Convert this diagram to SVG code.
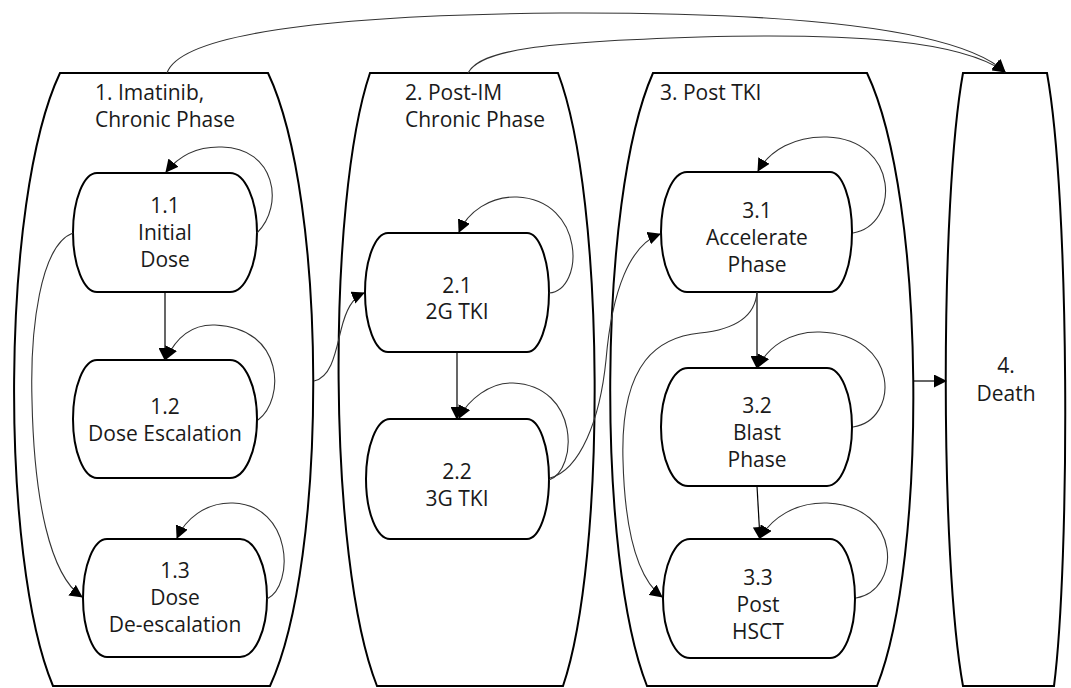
<svg xmlns="http://www.w3.org/2000/svg" width="1071" height="688" viewBox="0 0 1071 688">
<defs>
<marker id="ah" markerWidth="13" markerHeight="13" refX="12" refY="6.5" orient="auto" markerUnits="userSpaceOnUse"><path d="M0,0 L13,6.5 L0,13 Z" fill="#000"/></marker>
<style>
.cont{fill:none;stroke:#000;stroke-width:2}
.node{fill:#fff;stroke:#000;stroke-width:2}
.t{font-family:"Open Sans","Noto Sans",sans-serif;font-size:21px;fill:#1a1a1a}
.c{text-anchor:middle}
.e{fill:none;stroke:#333;stroke-width:1.1}
.s{fill:none;stroke:#000;stroke-width:1.2}
</style>
</defs>
<rect width="1071" height="688" fill="#fff"/>
<g id="container1">
<path class="cont" d="M60,73 H268 C328,200 328,560 270,686 H53 C0,560 0,200 60,73 Z"/>
<text class="t" x="95" y="100">1. Imatinib,</text>
<text class="t" x="95" y="127">Chronic Phase</text>
</g>
<g id="container2">
<path class="cont" d="M370,73 H558 C606,200 606,560 563,686 H377 C327,560 327,200 370,73 Z"/>
<text class="t" x="405" y="100">2. Post-IM</text>
<text class="t" x="405" y="127">Chronic Phase</text>
</g>
<g id="container3">
<path class="cont" d="M653,73 H867 C927,200 927,560 877,686 H647 C597,560 597,200 653,73 Z"/>
<text class="t" x="660" y="100">3. Post TKI</text>
</g>
<g id="container4">
<path class="cont" d="M963,73 H1047 C1070,200 1070,560 1054,686 H963 C940,560 940,200 963,73 Z"/>
<text class="t c" x="1006" y="373">4.</text>
<text class="t c" x="1006" y="401">Death</text>
</g>
<g id="n11">
<path class="node" d="M97,173 H230 A27,59.5 0 0 1 230,292 H97 A24,59.5 0 0 1 97,173 Z"/>
<text class="t c" x="165" y="213">1.1</text>
<text class="t c" x="165" y="240">Initial</text>
<text class="t c" x="165" y="267">Dose</text>
</g>
<g id="n12">
<path class="node" d="M97,360 H230 A27,59 0 0 1 230,478 H97 A24,59 0 0 1 97,360 Z"/>
<text class="t c" x="165" y="414">1.2</text>
<text class="t c" x="165" y="441">Dose Escalation</text>
</g>
<g id="n13">
<path class="node" d="M107,539 H240 A27,59 0 0 1 240,657 H107 A24,59 0 0 1 107,539 Z"/>
<text class="t c" x="175" y="578">1.3</text>
<text class="t c" x="175" y="605">Dose</text>
<text class="t c" x="175" y="632">De-escalation</text>
</g>
<g id="n21">
<path class="node" d="M388,233 H527 A22,59.5 0 0 1 527,352 H388 A23,59.5 0 0 1 388,233 Z"/>
<text class="t c" x="457" y="293">2.1</text>
<text class="t c" x="457" y="319">2G TKI</text>
</g>
<g id="n22">
<path class="node" d="M390,419 H527 A22,60 0 0 1 527,539 H390 A24,60 0 0 1 390,419 Z"/>
<text class="t c" x="457" y="479">2.2</text>
<text class="t c" x="457" y="506">3G TKI</text>
</g>
<g id="n31">
<path class="node" d="M687,172 H830 A22,60 0 0 1 830,292 H687 A26,60 0 0 1 687,172 Z"/>
<text class="t c" x="757" y="218">3.1</text>
<text class="t c" x="757" y="245">Accelerate</text>
<text class="t c" x="757" y="272">Phase</text>
</g>
<g id="n32">
<path class="node" d="M688,368 H827 A25,59 0 0 1 827,486 H688 A27,59 0 0 1 688,368 Z"/>
<text class="t c" x="757" y="413">3.2</text>
<text class="t c" x="757" y="440">Blast</text>
<text class="t c" x="757" y="467">Phase</text>
</g>
<g id="n33">
<path class="node" d="M690,539 H830 A25,59.5 0 0 1 830,658 H690 A27,59.5 0 0 1 690,539 Z"/>
<text class="t c" x="758" y="585">3.3</text>
<text class="t c" x="758" y="612">Post</text>
<text class="t c" x="758" y="639">HSCT</text>
</g>
<g id="connectors">
<path class="s" d="M165,292 V360" marker-end="url(#ah)"/>
<path class="s" d="M457,352 V419" marker-end="url(#ah)"/>
<path class="s" d="M757,292 V368" marker-end="url(#ah)"/>
<path class="s" d="M757,486 L760,539" marker-end="url(#ah)"/>
<path class="s" d="M914,381 H946" marker-end="url(#ah)"/>
<path class="e" d="M257,233 C285,205 275,148 222,147 C195,146 178,157 166,172" marker-end="url(#ah)"/>
<path class="e" d="M258,420 C285,400 285,328 215,325 C190,324 175,340 166,359" marker-end="url(#ah)"/>
<path class="e" d="M267,599 C295,585 292,505 233,503 C205,502 185,520 177,538" marker-end="url(#ah)"/>
<path class="e" d="M549,293 C585,290 585,200 517,197 C490,196 468,212 459,232" marker-end="url(#ah)"/>
<path class="e" d="M549,480 C578,470 580,386 513,383 C490,382 468,400 459,418" marker-end="url(#ah)"/>
<path class="e" d="M853,233 C900,225 900,140 827,137 C795,136 770,150 758,171" marker-end="url(#ah)"/>
<path class="e" d="M853,427 C900,420 900,335 820,332 C790,331 768,347 758,367" marker-end="url(#ah)"/>
<path class="e" d="M856,598 C902,590 902,506 827,503 C795,502 772,518 760,538" marker-end="url(#ah)"/>
<path class="e" d="M73,233 C40,245 30,330 32,400 C34,500 50,575 82,597" marker-end="url(#ah)"/>
<path class="e" d="M314,381 C332,377 336,350 341,330 C346,310 352,298 364,293" marker-end="url(#ah)"/>
<path class="e" d="M550,478 C580,470 600,420 606,360 C612,290 630,245 660,234" marker-end="url(#ah)"/>
<path class="e" d="M757,292 C755,320 730,330 700,333 C660,337 620,360 623,460 C625,540 640,580 662,597" marker-end="url(#ah)"/>
<path class="e" d="M167,73 C180,35 320,15 560,13 C800,12 960,30 1005,72" marker-end="url(#ah)"/>
<path class="e" d="M468,73 C480,50 540,42 700,37 C850,33 960,40 1005,72" marker-end="url(#ah)"/>
</g>
</svg>
